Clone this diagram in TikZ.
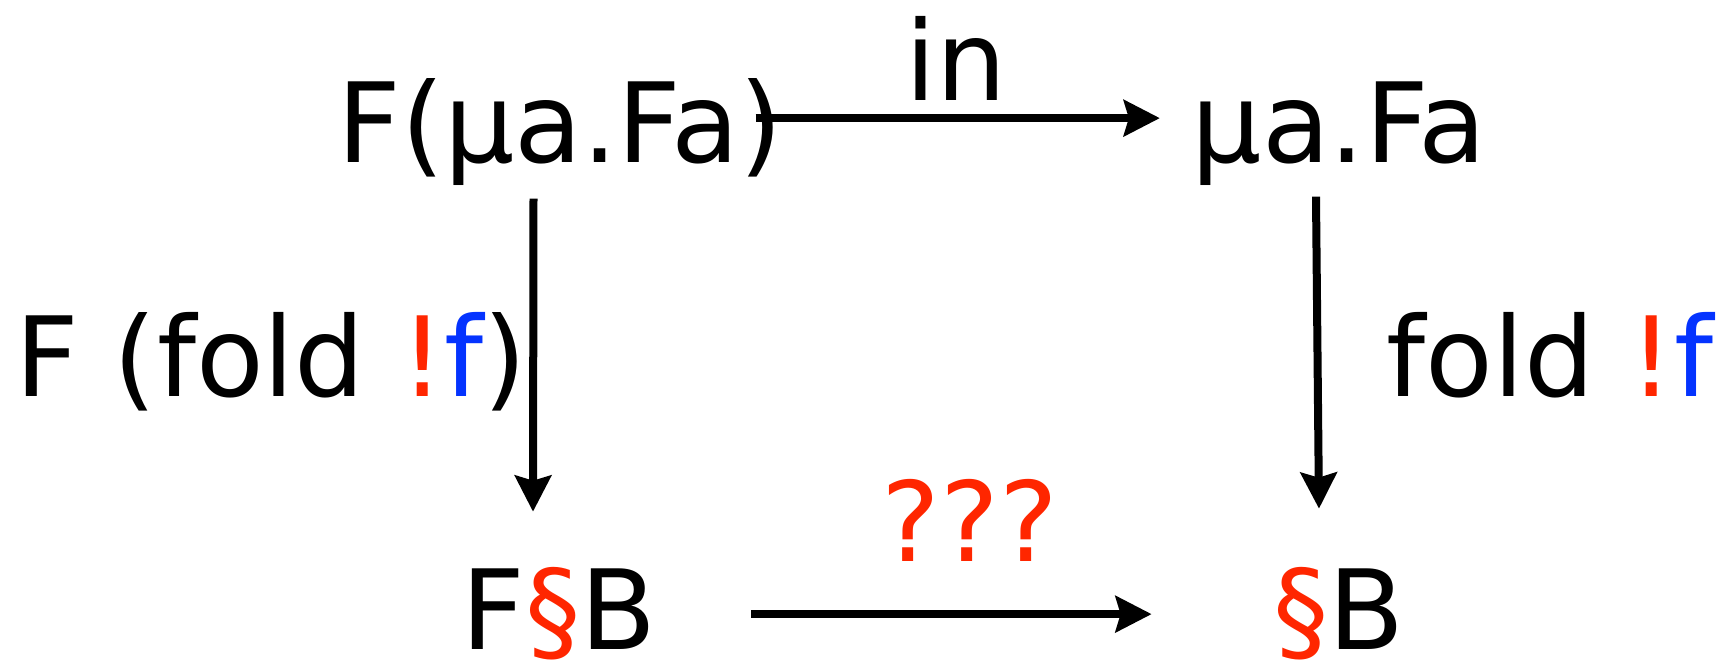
\documentclass[tikz,border=0pt]{standalone}
\usepackage{fontspec}
\setmainfont{DejaVu Sans}
\definecolor{qred}{HTML}{FF2600}
\definecolor{qblue}{HTML}{0433FF}
\usetikzlibrary{arrows.meta}

\begin{document}
\begin{tikzpicture}[
    txt/.style={inner sep=0pt, anchor=base, text height=0.84cm, text depth=0.233cm,
                font=\fontsize{31.5}{38}\selectfont},
    arr/.style={-{Stealth[length=0.36cm, width=0.36cm, inset=0.05cm]}, line width=0.08cm}
  ]
    \useasboundingbox (0,0) rectangle (17.28,6.65);

    \node[txt] (fmu)  at (5.60,5.02)  {F(μa.Fa)};
    \node[txt] (mu)   at (13.39,5.02) {μa.Fa};
    \node[txt] (fb)   at (5.59,0.15)  {F\textcolor{qred}{§}B};
    \node[txt] (b)    at (13.39,0.15) {\textcolor{qred}{§}B};

    \node[txt] (in)   at (9.56,5.64)  {in};
    \node[txt] (ffold) at (2.71,2.68) {F (fold \textcolor{qred}{!}\textcolor{qblue}{f})};
    \node[txt] (fold) at (15.50,2.68) {fold \textcolor{qred}{!}\textcolor{qblue}{f}};
    \node[txt] (qqq)  at (9.70,1.03)  {\textcolor{qred}{???}};

    \draw[arr] ([xshift=-2.75mm,yshift=1.45mm]fmu.east) -- ([xshift=-3.1mm,yshift=1.45mm]mu.west);
    \draw[arr] ([xshift=-2.65mm,yshift=-1.17mm]fmu.south) -- ([xshift=-2.6mm,yshift=5.36mm]fb.north);
    \draw[arr] ([xshift=-2.3mm,yshift=-0.97mm]mu.south) -- ([xshift=-2.0mm,yshift=5.66mm]b.north);
    \draw[arr] ([xshift=9.43mm,yshift=0.55mm]fb.east) -- ([xshift=-12.1mm,yshift=0.55mm]b.west);
  \end{tikzpicture}
\end{document}
